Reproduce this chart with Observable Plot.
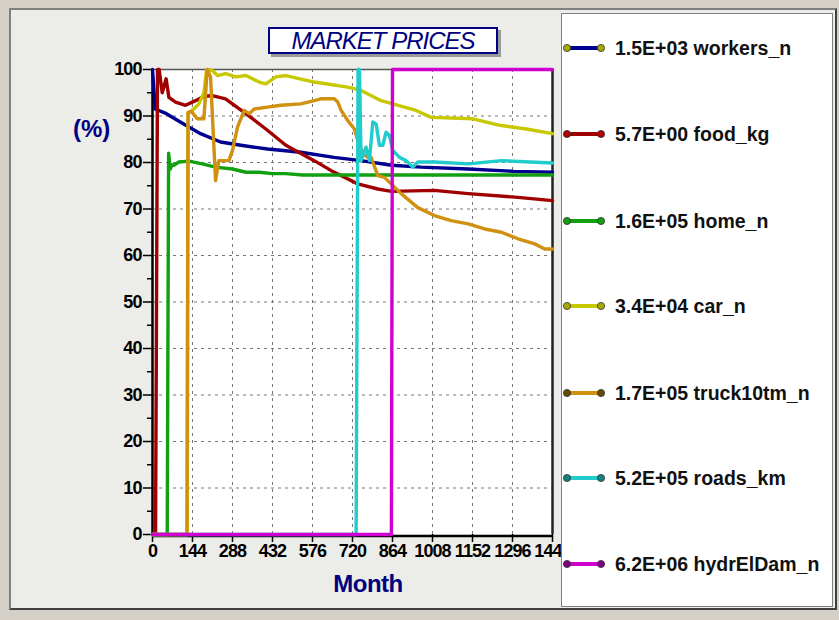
<!DOCTYPE html>
<html><head><meta charset="utf-8">
<script src="https://cdn.jsdelivr.net/npm/d3@7"></script>
<script src="https://cdn.jsdelivr.net/npm/@observablehq/plot@0.6"></script>
<style>
html,body{margin:0;padding:0;}
body{width:839px;height:620px;background:#d4d0c8;position:relative;overflow:hidden;font-family:"Liberation Sans",Arial,sans-serif;}
#panel{position:absolute;left:9px;top:8px;width:824px;height:598px;background:#ececE8;border-top:2px solid #808080;border-left:2px solid #808080;border-right:2px solid #404040;border-bottom:2px solid #404040;}
#chart{position:absolute;left:0;top:0;}
#chart svg text{letter-spacing:-0.9px;}
#title{position:absolute;left:268px;top:27px;width:226px;height:23px;background:#fff;border:2px solid #000080;box-shadow:3px 3px 0 #9a9a9a;color:#000080;font-style:italic;font-size:24px;line-height:23px;text-align:center;letter-spacing:-1px;}
#ylab{position:absolute;left:73px;top:115px;color:#000080;font-weight:bold;font-size:24px;}
#xlab{position:absolute;left:300px;top:570px;width:136px;text-align:center;color:#000080;font-weight:bold;font-size:24px;letter-spacing:-0.5px;}
#legend{position:absolute;left:561px;top:13px;width:270px;height:592px;background:#fff;border:1px solid #808080;}
.item{position:absolute;left:0;height:24px;display:flex;align-items:center;}
.item span{font-weight:bold;font-size:19.5px;color:#111;margin-left:9px;white-space:nowrap;}
</style></head>
<body>
<div id="panel"></div>
<div id="chart"></div>
<div id="title">MARKET PRICES</div>
<div id="ylab">(%)</div>
<div id="xlab">Month</div>
<div id="legend"></div>
<script>
// ---- data (month, % of max price) ----
const workersPts = [[0,100],[10,91.5],[50,90.5],[100,88.7],[173,86.2],[245,84.4],[318,83.7],[414,82.9],[534,82.2],[653,81.1],[751,80.4],[860,79.4],[967,79],[1136,78.6],[1300,78.1],[1440,77.9]];
const foodPts = [[0,0],[11,0],[18,100],[24,100],[35,95],[49,98],[59,94],[83,93],[119,92.3],[155,93.3],[184,94.2],[215,94.4],[263,93.7],[336,90.5],[408,87.2],[480,83.7],[582,80.4],[642,78.3],[739,75.4],[811,74.3],[860,73.8],[1014,74],[1136,73.3],[1316,72.5],[1440,71.8]];
const homePts = [[0,0],[53,0],[58,82],[64,78.6],[70,79.5],[77,79.4],[95,80.1],[131,80.3],[179,79.7],[227,79],[288,78.6],[336,77.9],[384,77.9],[432,77.6],[480,77.6],[540,77.3],[1440,77.3]];
const carPts = [[0,0],[125,0],[128,90.5],[143,91.2],[167,92.6],[185,95],[195,100],[215,99.8],[234,98.7],[263,99.1],[300,98.4],[336,98.7],[384,97.3],[408,96.9],[444,98.4],[480,98.7],[582,97.3],[703,96.2],[751,95.5],[823,93.3],[949,91.2],[1003,89.7],[1154,89.4],[1250,88],[1346,87.2],[1440,86.2]];
const truckPts = [[0,0],[124,0],[128,90.8],[140,91],[161,89.4],[185,89.4],[197,100],[209,98.4],[227,76.1],[239,80.4],[275,80.4],[288,82.6],[306,87.6],[330,91.2],[348,90.5],[366,91.5],[414,91.9],[462,92.3],[534,92.6],[582,93.3],[606,93.7],[654,93.7],[667,93],[679,91.2],[703,89],[727,87.2],[739,84.7],[757,81.9],[775,81.1],[787,81.1],[811,77.2],[835,76.8],[859,75.4],[895,73.3],[955,70.3],[1015,68.6],[1075,67.5],[1136,66.8],[1196,65.7],[1256,65],[1316,63.6],[1376,62.5],[1412,61.4],[1440,61.4]];
const roadsPts = [[0,0],[733,0],[740,100],[745,100],[751,80.4],[760,82],[769,83.3],[781,80.4],[793,88.7],[805,88.3],[817,83.7],[829,83.7],[841,86.5],[853,85.8],[865,82.6],[889,81.1],[913,80.4],[937,79],[955,80.1],[1015,80.1],[1136,79.7],[1256,80.4],[1440,79.9]];
const hydrPts = [[0,0],[860,0],[864,100],[1440,100]];

const seriesNames = ["workers_n","food_kg","home_n","car_n","truck10tm_n","roads_km","hydrElDam_n"];
const seriesLabels = ["1.5E+03 workers_n","5.7E+00 food_kg","1.6E+05 home_n","3.4E+04 car_n","1.7E+05 truck10tm_n","5.2E+05 roads_km","6.2E+06 hydrElDam_n"];
const seriesPts = [workersPts, foodPts, homePts, carPts, truckPts, roadsPts, hydrPts];
const seriesColors = ["#000090","#a00000","#10a010","#c8c800","#d09010","#20cccc","#d000d0"];
const dotColors = ["#a8a800","#b00000","#10a010","#a8a800","#6a4800","#108080","#800080"];

const xTicks = [0,144,288,432,576,720,864,1008,1152,1296,1440];
const yTicks = [0,10,20,30,40,50,60,70,80,90,100];
const yMinor = [5,15,25,35,45,55,65,75,85,95];

// ---- chart ----
const lineMarks = seriesPts.map((pts, i) =>
  Plot.line(pts, {x: d => d[0], y: d => d[1], stroke: seriesColors[i], strokeWidth: 3.4, strokeLinejoin: "round"}));

const chart = Plot.plot({
  width: 560, height: 610,
  marginLeft: 152, marginRight: 8, marginTop: 69, marginBottom: 76,
  x: {domain: [0, 1440]},
  y: {domain: [0, 100]},
  style: {background: "transparent", fontFamily: "'Liberation Sans', Arial, sans-serif", fontWeight: "bold", color: "#000", overflow: "visible"},
  marks: [
    Plot.frame({fill: "white"}),
    Plot.gridX(xTicks.slice(1, -1), {stroke: "#777", strokeOpacity: 1, strokeDasharray: "3,4"}),
    Plot.gridY(yTicks.slice(1, -1), {stroke: "#777", strokeOpacity: 1, strokeDasharray: "3,4"}),
    Plot.axisY(yMinor, {tickSize: 5, tickFormat: () => "", label: null, strokeWidth: 1.5}),
    Plot.axisY(yTicks, {tickSize: 9, tickPadding: 2, fontSize: 18, tickFormat: d => String(d), label: null, strokeWidth: 1.5}),
    Plot.axisX(xTicks, {tickSize: 8, tickPadding: 2, fontSize: 18, tickFormat: d => String(d), label: null, strokeWidth: 1.5}),
    Plot.ruleY([100], {stroke: "#555", strokeWidth: 1.5}),
    Plot.ruleX([1440], {stroke: "#222", strokeWidth: 2.5}),
    Plot.ruleY([0], {stroke: "#000", strokeWidth: 2.5, dy: 1.5}),
    Plot.ruleX([0], {stroke: "#000", strokeWidth: 2.5}),
    ...lineMarks
  ]
});
document.getElementById("chart").appendChild(chart);

// ---- legend ----
const legend = document.getElementById("legend");
const legendY = [47, 133, 220, 305, 392, 477, 563];
seriesLabels.forEach((lab, i) => {
  const item = document.createElement("div");
  item.className = "item";
  item.style.top = (legendY[i] - 13 - 12) + "px";
  item.innerHTML = `<svg width="44" height="12"><line x1="5" y1="6" x2="39" y2="6" stroke="${seriesColors[i]}" stroke-width="4"/>` +
    `<circle cx="5" cy="6" r="3.6" fill="${dotColors[i]}" stroke="#333" stroke-width="0.8"/>` +
    `<circle cx="39" cy="6" r="3.6" fill="${dotColors[i]}" stroke="#333" stroke-width="0.8"/></svg><span>${lab}</span>`;
  legend.appendChild(item);
});
</script>
</body></html>
